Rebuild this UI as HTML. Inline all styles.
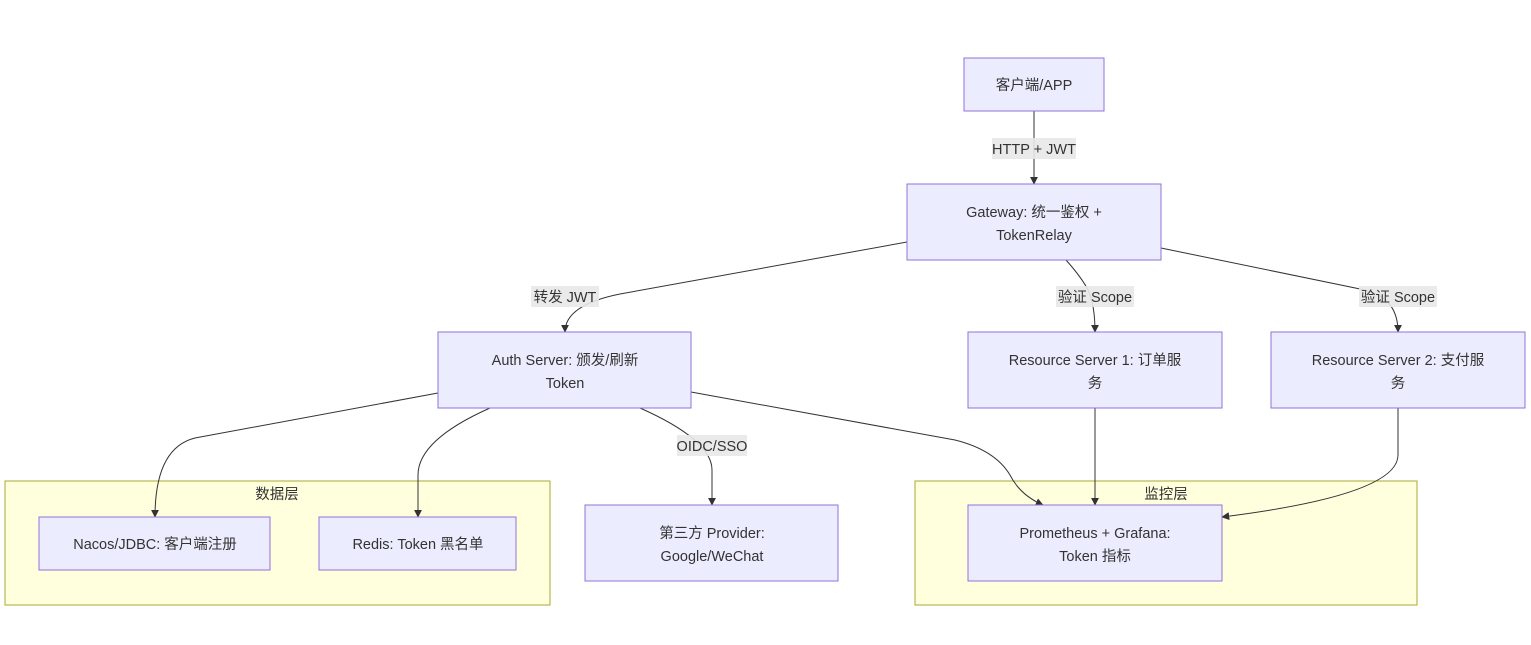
<!DOCTYPE html>
<html><head><meta charset="utf-8"><style>
html,body{margin:0;padding:0;background:#fff;}
svg{display:block;}
text{font-family:"Liberation Sans","Noto Sans CJK SC",sans-serif;font-size:14.5px;fill:#333;}
.n{fill:#ECECFF;stroke:#9370DB;stroke-width:1;}
.c{fill:#ffffde;stroke:#aaaa33;stroke-width:1;}
.e{fill:none;stroke:#333;stroke-width:1;}
.lb{fill:#e8e8e8;opacity:0.9;}
</style></head><body>
<svg width="1531" height="645" viewBox="0 0 1531 645">
<defs><marker id="a" viewBox="0 0 10 10" refX="9" refY="5" markerWidth="8" markerHeight="8" orient="auto"><path d="M0,0 L10,5 L0,10 z" fill="#333"/></marker></defs>
<rect class="c" x="5" y="481" width="545" height="124"/>
<text x="277" y="499" text-anchor="middle">数据层</text>
<rect class="c" x="915" y="481" width="502" height="124"/>
<text x="1166" y="499" text-anchor="middle">监控层</text>

<path class="e" marker-end="url(#a)" d="M1034,111 L1034,184"/>
<path class="e" marker-end="url(#a)" d="M907,242 L620,294 Q565,305 565,332"/>
<path class="e" marker-end="url(#a)" d="M1066,260 Q1082,278 1088,290 Q1095,305 1095,332"/>
<path class="e" marker-end="url(#a)" d="M1161,248 L1365,290 Q1398,298 1398,332"/>
<path class="e" marker-end="url(#a)" d="M438,393 L195,438 Q155,448 155,517"/>
<path class="e" marker-end="url(#a)" d="M490,408 Q418,440 418,475 L418,517"/>
<path class="e" marker-end="url(#a)" d="M640,408 Q712,440 712,470 L712,505"/>
<path class="e" marker-end="url(#a)" d="M691,392 L955,440 Q995,450 1010,475 Q1020,495 1043,505"/>
<path class="e" marker-end="url(#a)" d="M1095,408 L1095,505"/>
<path class="e" marker-end="url(#a)" d="M1398,408 L1398,455 Q1398,495 1222,517"/>

<rect class="lb" x="992" y="138" width="84" height="21"/><text x="1034" y="154" text-anchor="middle">HTTP + JWT</text>
<rect class="lb" x="531" y="286" width="68" height="21"/><text x="565" y="302" text-anchor="middle">转发 JWT</text>
<rect class="lb" x="1056" y="286" width="78" height="21"/><text x="1095" y="302" text-anchor="middle">验证 Scope</text>
<rect class="lb" x="1359" y="286" width="78" height="21"/><text x="1398" y="302" text-anchor="middle">验证 Scope</text>
<rect class="lb" x="677" y="435" width="70" height="21"/><text x="712" y="451" text-anchor="middle">OIDC/SSO</text>

<rect class="n" x="964" y="58" width="140" height="53"/><text x="1034" y="90" text-anchor="middle">客户端/APP</text>
<rect class="n" x="907" y="184" width="254" height="76"/><text x="1034" y="217" text-anchor="middle">Gateway: 统一鉴权 +</text><text x="1034" y="240" text-anchor="middle">TokenRelay</text>
<rect class="n" x="438" y="332" width="253" height="76"/><text x="565" y="365" text-anchor="middle">Auth Server: 颁发/刷新</text><text x="565" y="388" text-anchor="middle">Token</text>
<rect class="n" x="968" y="332" width="254" height="76"/><text x="1095" y="365" text-anchor="middle">Resource Server 1: 订单服</text><text x="1095" y="388" text-anchor="middle">务</text>
<rect class="n" x="1271" y="332" width="254" height="76"/><text x="1398" y="365" text-anchor="middle">Resource Server 2: 支付服</text><text x="1398" y="388" text-anchor="middle">务</text>
<rect class="n" x="39" y="517" width="231" height="53"/><text x="155" y="549" text-anchor="middle">Nacos/JDBC: 客户端注册</text>
<rect class="n" x="319" y="517" width="197" height="53"/><text x="418" y="549" text-anchor="middle">Redis: Token 黑名单</text>
<rect class="n" x="585" y="505" width="253" height="76"/><text x="712" y="538" text-anchor="middle">第三方 Provider:</text><text x="712" y="561" text-anchor="middle">Google/WeChat</text>
<rect class="n" x="968" y="505" width="254" height="76"/><text x="1095" y="538" text-anchor="middle">Prometheus + Grafana:</text><text x="1095" y="561" text-anchor="middle">Token 指标</text>
</svg>
</body></html>
